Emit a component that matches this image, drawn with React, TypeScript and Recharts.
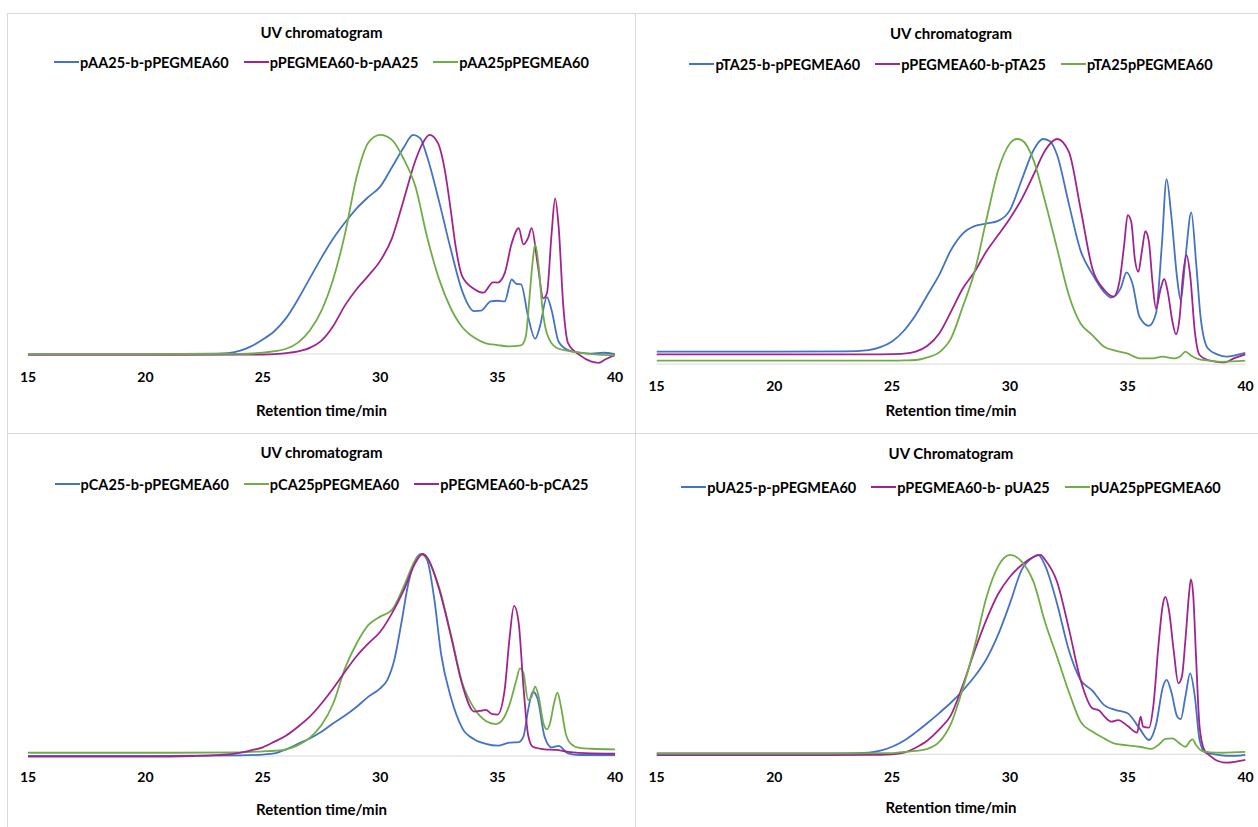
import React from "react";
import { LineChart, Line, XAxis, YAxis, ReferenceLine } from "recharts";

type Pt = [number, number];

const FONT = "Lato, 'Open Sans', Arial, sans-serif";
const BLUE = "#4472c4";
const PURPLE = "#a0248f";
const GREEN = "#70ad47";
const GRID = "#d9d9d9";

const timeTicks = [15, 20, 25, 30, 35, 40];
const axisTitle = "Retention time/min";

// ---- AA panel (top left)
const aaBlock: Pt[] = [
  [15, 0], [20, 0], [23, 0.002], [23.5, 0.004], [24, 0.014], [24.5, 0.035], [25, 0.066],
  [25.5, 0.105], [26, 0.165], [26.5, 0.25], [27, 0.345], [27.5, 0.44], [28, 0.527],
  [28.5, 0.6], [29, 0.665], [29.5, 0.717], [30, 0.764], [30.5, 0.852], [31, 0.942],
  [31.4, 1.0], [31.7, 0.985], [32, 0.9], [32.5, 0.7], [33, 0.48], [33.5, 0.285],
  [34, 0.196], [34.3, 0.198], [34.7, 0.24], [35, 0.243], [35.3, 0.24], [35.6, 0.34],
  [35.8, 0.32], [36.0, 0.318], [36.3, 0.17], [36.6, 0.07], [36.8, 0.125], [37.1, 0.26],
  [37.3, 0.2], [37.6, 0.056], [38, 0.018], [38.5, 0.006], [39, 0.002], [39.5, 0.006], [40, 0],
];
const aaInverse: Pt[] = [
  [15, -0.004], [20, -0.004], [24, -0.003], [25, -0.002], [25.5, 0.0], [26, 0.004],
  [26.5, 0.012], [27, 0.028], [27.5, 0.061], [28, 0.128], [28.5, 0.222], [29, 0.297],
  [29.5, 0.358], [30, 0.425], [30.5, 0.528], [31, 0.703], [31.5, 0.883], [31.8, 0.96],
  [32.1, 1.0], [32.47, 0.96], [32.75, 0.84], [33, 0.66], [33.2, 0.5], [33.5, 0.353],
  [34, 0.297], [34.4, 0.28], [34.8, 0.327], [35, 0.326], [35.3, 0.368], [35.6, 0.505],
  [35.9, 0.574], [36.1, 0.5], [36.3, 0.53], [36.45, 0.574], [36.7, 0.414], [36.95, 0.254],
  [37.1, 0.277], [37.3, 0.55], [37.45, 0.71], [37.6, 0.58], [37.8, 0.216], [38, 0.05],
  [38.5, -0.005], [39, -0.035], [39.3, -0.04], [39.6, -0.024], [40, -0.005],
];
const aaStat: Pt[] = [
  [15, 0], [20, 0], [24, 0.001], [25, 0.006], [25.5, 0.013], [26, 0.024], [26.5, 0.052],
  [27, 0.107], [27.5, 0.198], [28, 0.342], [28.5, 0.548], [29, 0.81], [29.5, 0.965],
  [30, 1.0], [30.5, 0.977], [31, 0.89], [31.5, 0.764], [32, 0.533], [32.5, 0.344],
  [33, 0.21], [33.5, 0.122], [34, 0.075], [34.5, 0.049], [35, 0.041], [35.5, 0.035],
  [36, 0.04], [36.2, 0.08], [36.35, 0.247], [36.5, 0.43], [36.6, 0.5], [36.75, 0.4],
  [36.9, 0.216], [37.1, 0.094], [37.5, 0.029], [38, 0.014], [38.5, 0.006], [39, 0], [40, -0.006],
];

// ---- TA panel (top right)
const taBlock: Pt[] = [
  [15, 0.055], [20, 0.055], [23, 0.056], [24, 0.062], [24.5, 0.075], [25, 0.1], [25.5, 0.148],
  [26, 0.218], [26.5, 0.307], [27, 0.396], [27.5, 0.507], [28, 0.58], [28.5, 0.613],
  [29, 0.624], [29.5, 0.636], [30, 0.684], [30.5, 0.818], [31, 0.95], [31.4, 1.0],
  [31.7, 0.99], [32, 0.93], [32.5, 0.713], [33, 0.504], [33.5, 0.4], [34, 0.32],
  [34.3, 0.295], [34.7, 0.336], [34.95, 0.407], [35.2, 0.358], [35.5, 0.21], [35.9, 0.17],
  [36.2, 0.225], [36.45, 0.53], [36.65, 0.822], [36.85, 0.66], [37.1, 0.38], [37.25, 0.284],
  [37.45, 0.47], [37.7, 0.674], [37.9, 0.455], [38.1, 0.203], [38.4, 0.07], [38.8, 0.043],
  [39.2, 0.033], [39.6, 0.04], [40, 0.05],
];
const taInverse: Pt[] = [
  [15, 0.043], [20, 0.043], [24, 0.043], [25, 0.044], [25.5, 0.046], [26, 0.055],
  [26.5, 0.081], [27, 0.136], [27.5, 0.233], [28, 0.336], [28.5, 0.41], [29, 0.5],
  [29.5, 0.573], [30, 0.647], [30.5, 0.733], [31, 0.84], [31.5, 0.95], [32, 1.0],
  [32.5, 0.944], [33, 0.69], [33.5, 0.425], [34, 0.33], [34.4, 0.3], [34.65, 0.366],
  [34.85, 0.53], [35, 0.662], [35.15, 0.633], [35.3, 0.47], [35.45, 0.41], [35.6, 0.5],
  [35.75, 0.59], [35.9, 0.544], [36.05, 0.366], [36.2, 0.247], [36.4, 0.336], [36.55, 0.378],
  [36.7, 0.321], [36.9, 0.188], [37.05, 0.132], [37.2, 0.203], [37.35, 0.396], [37.5, 0.484],
  [37.65, 0.396], [37.85, 0.144], [38.05, 0.04], [38.4, 0.018], [38.8, 0.01], [39.1, 0.007],
  [39.5, 0.025], [40, 0.043],
];
const taStat: Pt[] = [
  [15, 0.015], [20, 0.015], [25, 0.015], [25.5, 0.016], [26, 0.018], [26.5, 0.03],
  [27, 0.052], [27.5, 0.114], [28, 0.255], [28.5, 0.41], [29, 0.64], [29.5, 0.86],
  [30, 0.98], [30.3, 1.0], [30.5, 0.995], [31, 0.907], [31.5, 0.72], [32, 0.514],
  [32.5, 0.307], [33, 0.18], [33.5, 0.129], [34, 0.077], [34.5, 0.059], [35, 0.046],
  [35.5, 0.025], [36, 0.025], [36.5, 0.033], [36.7, 0.03], [37, 0.025], [37.25, 0.036],
  [37.45, 0.055], [37.7, 0.037], [38, 0.022], [38.5, 0.015], [39, 0.01], [40, 0.015],
];

// ---- CA panel (bottom left)
const caBlock: Pt[] = [
  [15, 0], [20, 0], [24, 0.003], [25, 0.007], [25.5, 0.013], [26, 0.033], [26.5, 0.06],
  [27, 0.087], [27.5, 0.12], [28, 0.162], [28.5, 0.2], [29, 0.244], [29.5, 0.294],
  [30, 0.335], [30.3, 0.376], [30.6, 0.475], [30.9, 0.657], [31.2, 0.855], [31.5, 0.97],
  [31.75, 1.0], [32, 0.97], [32.3, 0.78], [32.6, 0.5], [33, 0.294], [33.5, 0.137],
  [34, 0.083], [34.5, 0.06], [35, 0.051], [35.5, 0.066], [35.9, 0.069], [36.1, 0.096],
  [36.3, 0.228], [36.5, 0.318], [36.7, 0.285], [37, 0.096], [37.3, 0.043], [37.6, 0.05],
  [38, 0.013], [38.5, 0.005], [40, 0.005],
];
const caStat: Pt[] = [
  [15, 0.016], [20, 0.016], [24, 0.018], [25, 0.023], [25.5, 0.026], [26, 0.033],
  [26.5, 0.054], [27, 0.09], [27.5, 0.153], [28, 0.26], [28.5, 0.434], [29, 0.558],
  [29.5, 0.649], [30, 0.69], [30.5, 0.723], [31, 0.838], [31.5, 0.97], [31.8, 1.0],
  [32, 0.979], [32.5, 0.838], [33, 0.607], [33.5, 0.36], [34, 0.236], [34.5, 0.173],
  [34.9, 0.158], [35.2, 0.178], [35.5, 0.252], [35.8, 0.376], [35.95, 0.434], [36.1, 0.41],
  [36.3, 0.277], [36.45, 0.294], [36.6, 0.343], [36.75, 0.294], [36.95, 0.162], [37.1, 0.132],
  [37.25, 0.17], [37.4, 0.26], [37.55, 0.314], [37.7, 0.244], [37.9, 0.112], [38.1, 0.063],
  [38.5, 0.04], [39, 0.036], [40, 0.033],
];
const caInverse: Pt[] = [
  [15, -0.003], [20, -0.003], [22, 0], [23, 0.004], [23.5, 0.008], [24, 0.016], [24.5, 0.028],
  [25, 0.043], [25.5, 0.071], [26, 0.102], [26.5, 0.145], [27, 0.195], [27.5, 0.26],
  [28, 0.335], [28.5, 0.417], [29, 0.495], [29.5, 0.558], [30, 0.615], [30.5, 0.706],
  [31, 0.82], [31.5, 0.957], [31.8, 1.0], [32, 0.983], [32.5, 0.83], [33, 0.6], [33.5, 0.351],
  [34, 0.22], [34.3, 0.224], [34.5, 0.228], [34.75, 0.208], [35, 0.205], [35.3, 0.327],
  [35.5, 0.574], [35.7, 0.743], [35.9, 0.657], [36.1, 0.343], [36.3, 0.104], [36.5, 0.046],
  [37, 0.033], [37.5, 0.03], [38, 0.02], [39, 0.013], [40, 0.012],
];

// ---- UA panel (bottom right)
const uaBlock: Pt[] = [
  [15, 0.005], [20, 0.005], [23, 0.005], [24, 0.008], [24.5, 0.018], [25, 0.038],
  [25.5, 0.068], [26, 0.11], [26.5, 0.157], [27, 0.207], [27.5, 0.26], [28, 0.32],
  [28.5, 0.39], [29, 0.477], [29.5, 0.6], [30, 0.757], [30.5, 0.925], [31, 0.99],
  [31.2, 1.0], [31.5, 0.945], [32, 0.757], [32.5, 0.523], [33, 0.373], [33.5, 0.32],
  [34, 0.247], [34.5, 0.222], [35, 0.206], [35.5, 0.13], [35.9, 0.072], [36.2, 0.147],
  [36.5, 0.34], [36.65, 0.373], [36.85, 0.314], [37.1, 0.19], [37.25, 0.176], [37.45, 0.29],
  [37.65, 0.406], [37.85, 0.29], [38.05, 0.072], [38.3, 0.008], [38.7, 0], [39.2, -0.008],
  [39.6, -0.008], [40, -0.003],
];
const uaInverse: Pt[] = [
  [15, -0.004], [20, -0.004], [24, -0.003], [25, 0], [25.5, 0.008], [26, 0.033],
  [26.5, 0.069], [27, 0.125], [27.5, 0.197], [28, 0.346], [28.5, 0.518], [29, 0.674],
  [29.5, 0.804], [30, 0.891], [30.5, 0.95], [31, 0.99], [31.3, 1.0], [31.5, 0.975],
  [32, 0.866], [32.5, 0.632], [33, 0.373], [33.5, 0.231], [33.8, 0.219], [34, 0.192],
  [34.3, 0.164], [34.6, 0.172], [35, 0.142], [35.4, 0.109], [35.55, 0.189], [35.65, 0.139],
  [35.9, 0.134], [36.1, 0.256], [36.3, 0.54], [36.5, 0.757], [36.6, 0.79], [36.75, 0.724],
  [36.95, 0.523], [37.15, 0.356], [37.3, 0.39], [37.45, 0.574], [37.6, 0.8], [37.68, 0.878],
  [37.78, 0.8], [37.9, 0.49], [38.05, 0.139], [38.25, 0.022], [38.5, -0.008], [38.8, -0.032],
  [39.2, -0.042], [39.6, -0.037], [40, -0.028],
];
const uaStat: Pt[] = [
  [15, 0.005], [20, 0.005], [25, 0.006], [25.5, 0.012], [26, 0.017], [26.5, 0.027],
  [27, 0.062], [27.5, 0.154], [28, 0.33], [28.5, 0.54], [29, 0.786], [29.5, 0.943],
  [30, 1.0], [30.5, 0.967], [31, 0.866], [31.5, 0.66], [32, 0.49], [32.5, 0.314],
  [33, 0.164], [33.5, 0.114], [34, 0.08], [34.5, 0.052], [35, 0.045], [35.5, 0.038],
  [36, 0.027], [36.3, 0.047], [36.6, 0.077], [36.9, 0.08], [37.2, 0.055], [37.45, 0.038],
  [37.65, 0.067], [37.75, 0.075], [37.9, 0.047], [38.15, 0.017], [38.5, 0.01], [39, 0.008],
  [40, 0.012],
];

type Series = { name: string; color: string; points: Pt[] };
type Panel = {
  left: number;
  top: number;
  width: number;
  height: number;
  boxH: number;
  margin: { top: number; right: number; bottom: number; left: number };
  axisH: number;
  tickGap: number;
  title: string;
  titleY: number;
  legendY: number;
  series: Series[];
};

const panels: Panel[] = [
  {
    left: 7, top: 13, width: 628, height: 420, boxH: 421,
    margin: { top: 78, right: 20, bottom: 17, left: 21 },
    axisH: 51, tickGap: 7,
    title: "UV chromatogram", titleY: 32, legendY: 62,
    series: [
      { name: "pAA25-b-pPEGMEA60", color: BLUE, points: aaBlock },
      { name: "pPEGMEA60-b-pAA25", color: PURPLE, points: aaInverse },
      { name: "pAA25pPEGMEA60", color: GREEN, points: aaStat },
    ],
  },
  {
    left: 635, top: 13, width: 625, height: 420, boxH: 421,
    margin: { top: 81, right: 14.5, bottom: 17.5, left: 21.5 },
    axisH: 40.2, tickGap: 5.8,
    title: "UV chromatogram", titleY: 33, legendY: 64,
    series: [
      { name: "pTA25-b-pPEGMEA60", color: BLUE, points: taBlock },
      { name: "pPEGMEA60-b-pTA25", color: PURPLE, points: taInverse },
      { name: "pTA25pPEGMEA60", color: GREEN, points: taStat },
    ],
  },
  {
    left: 7, top: 433, width: 628, height: 394, boxH: 410,
    margin: { top: 80.6, right: 20, bottom: 11.6, left: 21 },
    axisH: 49.3, tickGap: 5.9,
    title: "UV chromatogram", titleY: 452, legendY: 484,
    series: [
      { name: "pCA25-b-pPEGMEA60", color: BLUE, points: caBlock },
      { name: "pCA25pPEGMEA60", color: GREEN, points: caStat },
      { name: "pPEGMEA60-b-pCA25", color: PURPLE, points: caInverse },
    ],
  },
  {
    left: 635, top: 433, width: 625, height: 394, boxH: 410,
    margin: { top: 82.1, right: 14.5, bottom: 13.6, left: 21.5 },
    axisH: 49.1, tickGap: 7.7,
    title: "UV Chromatogram", titleY: 453, legendY: 487,
    series: [
      { name: "pUA25-p-pPEGMEA60", color: BLUE, points: uaBlock },
      { name: "pPEGMEA60-b- pUA25", color: PURPLE, points: uaInverse },
      { name: "pUA25pPEGMEA60", color: GREEN, points: uaStat },
    ],
  },
];

const toRows = (pts: Pt[]) => pts.map(([t, v]) => ({ t, v }));

function Chromatogram({ p }: { p: Panel }) {
  const plotLeft = p.left + p.margin.left;
  const plotW = p.width - p.margin.left - p.margin.right;

  return (
    <>
      <div
        style={{
          position: "absolute",
          left: p.left,
          top: p.top,
          width: p.width + 1,
          height: p.boxH,
          border: `1px solid ${GRID}`,
          boxSizing: "border-box",
        }}
      />
      <div
        style={{
          position: "absolute",
          left: plotLeft,
          width: plotW,
          top: p.titleY - 10,
          height: 20,
          lineHeight: "20px",
          textAlign: "center",
          fontFamily: FONT,
          fontWeight: 700,
          fontSize: 15,
          color: "#000",
        }}
      >
        {p.title}
      </div>
      <div
        style={{
          position: "absolute",
          left: plotLeft - 20,
          width: plotW + 40,
          top: p.legendY - 10,
          height: 20,
          display: "flex",
          justifyContent: "center",
          alignItems: "center",
          gap: 15,
          fontFamily: FONT,
          fontWeight: 700,
          fontSize: 14.5,
          color: "#000",
          whiteSpace: "pre",
        }}
      >
        {p.series.map((s) => (
          <div key={s.name} style={{ display: "flex", alignItems: "center" }}>
            <span
              style={{
                display: "inline-block",
                width: 25,
                height: 2,
                background: s.color,
                marginRight: 1,
              }}
            />
            <span>{s.name}</span>
          </div>
        ))}
      </div>
      <div style={{ position: "absolute", left: p.left, top: p.top }}>
        <LineChart width={p.width} height={p.height} margin={p.margin}>
          <XAxis
            type="number"
            dataKey="t"
            domain={[15, 40]}
            ticks={timeTicks}
            allowDataOverflow
            axisLine={false}
            tickLine={false}
            tickSize={0}
            tickMargin={p.tickGap}
            height={p.axisH}
            tick={{ fontSize: 14, fontWeight: 700, fill: "#000", fontFamily: FONT }}
            label={{
              value: axisTitle,
              position: "insideBottom",
              offset: 0,
              fontSize: 15,
              fontWeight: 700,
              fill: "#000",
              fontFamily: FONT,
            }}
          />
          <YAxis hide type="number" domain={[-0.05, 1.2]} allowDataOverflow />
          <ReferenceLine y={0} stroke={GRID} strokeWidth={1} />
          {p.series.map((s) => (
            <Line
              key={s.name}
              data={toRows(s.points)}
              dataKey="v"
              type="monotone"
              stroke={s.color}
              strokeWidth={1.8}
              dot={false}
              activeDot={false}
              isAnimationActive={false}
            />
          ))}
        </LineChart>
      </div>
    </>
  );
}

export default function App() {
  return (
    <div
      style={{
        position: "absolute",
        left: 0,
        top: 0,
        width: 1258,
        height: 827,
        overflow: "hidden",
        background: "#fff",
      }}
    >
      {panels.map((p, i) => (
        <Chromatogram key={i} p={p} />
      ))}
    </div>
  );
}
